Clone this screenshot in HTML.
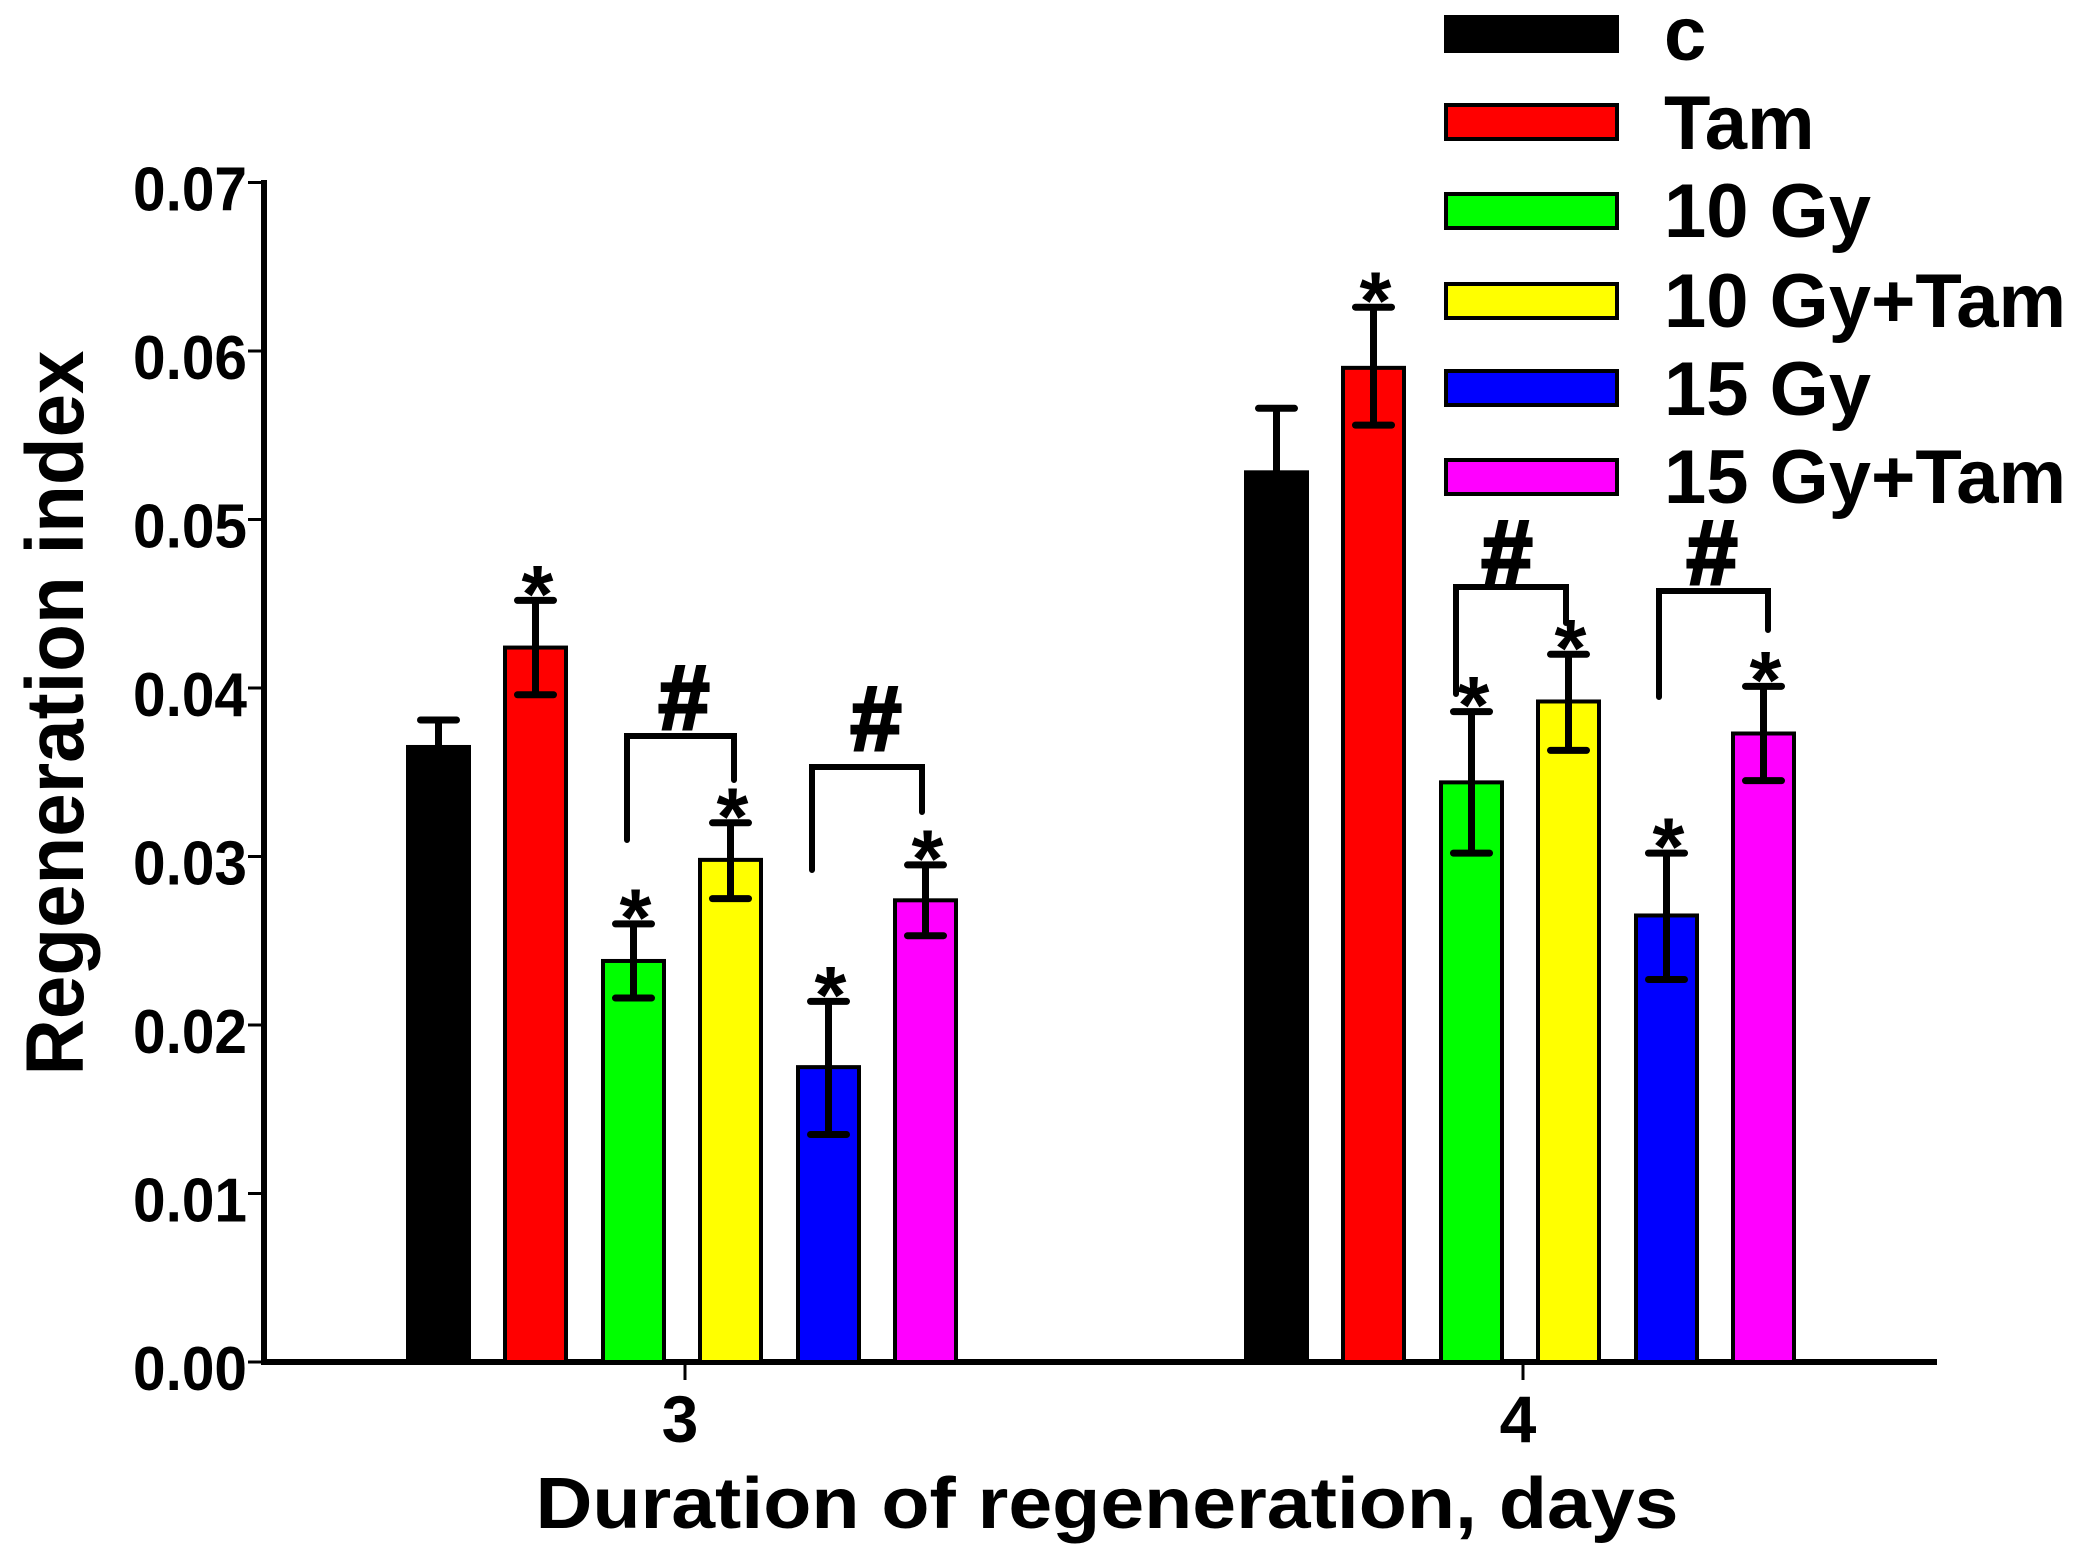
<!DOCTYPE html>
<html><head><meta charset="utf-8"><style>html,body{margin:0;padding:0;background:#fff}svg{display:block}</style></head>
<body>
<svg id="s" xmlns="http://www.w3.org/2000/svg" width="2090" height="1567" viewBox="0 0 2090 1567" font-family="Liberation Sans, Arial, sans-serif" font-weight="bold">
<rect width="2090" height="1567" fill="#fff"/>
<g id="g"></g>
</svg>
<script>
var g=document.getElementById('g'),h='';
function Y(v){return 1362-v*16850;}
h+='<line x1="264" y1="180" x2="264" y2="1365" stroke="#000" stroke-width="6"/>';
h+='<line x1="261" y1="1362" x2="1937" y2="1362" stroke="#000" stroke-width="6"/>';
for(var i=0;i<=7;i++){var y=Y(i*0.01);
 h+='<line x1="248" y1="'+y+'" x2="264" y2="'+y+'" stroke="#000" stroke-width="3"/>';
 h+='<text x="247" y="'+(y+28)+'" font-size="62" text-anchor="end" textLength="114" lengthAdjust="spacingAndGlyphs">'+(i/100).toFixed(2)+'</text>';}
[[685,'3'],[1523,'4']].forEach(function(t){
 h+='<line x1="'+t[0]+'" y1="1362" x2="'+t[0]+'" y2="1380" stroke="#000" stroke-width="3"/>';
 h+='<text x="'+(t[0]-5)+'" y="1442" font-size="66" text-anchor="middle">'+t[1]+'</text>';});
h+='<text x="1107" y="1528" font-size="72" text-anchor="middle" textLength="1143" lengthAdjust="spacingAndGlyphs">Duration of regeneration, days</text>';
h+='<text transform="translate(83,713) rotate(-90)" font-size="82" text-anchor="middle" textLength="725" lengthAdjust="spacingAndGlyphs">Regeneration index</text>';
var cols=['#000','#ff0000','#00ff00','#ffff00','#0000ff','#ff00ff'];
var data=[
 [[.0365,null,.0381,0],[.0424,.0396,.0452,1],[.0238,.0216,.026,1],[.0298,.0275,.032,1],[.0175,.0135,.0214,1],[.0274,.0253,.0295,1]],
 [[.0528,null,.0566,0],[.059,.0556,.0626,1],[.0344,.0302,.0386,1],[.0392,.0363,.042,1],[.0265,.0227,.0302,1],[.0373,.0345,.0401,1]]];
var lefts=[408,505,603,700,798,895],W=61;
data.forEach(function(gr,gi){gr.forEach(function(d,j){
 var x=lefts[j]+gi*838,cx=x+W/2,yt=Y(d[0]);
 h+='<rect x="'+x+'" y="'+yt+'" width="'+W+'" height="'+(1362-yt)+'" fill="'+cols[j]+'" stroke="#000" stroke-width="4"/>';
 var lo=d[1]===null?yt:Y(d[1]),hi=Y(d[2]);
 h+='<line x1="'+cx+'" y1="'+lo+'" x2="'+cx+'" y2="'+hi+'" stroke="#000" stroke-width="7"/>';
 h+='<line x1="'+(cx-18)+'" y1="'+hi+'" x2="'+(cx+18)+'" y2="'+hi+'" stroke="#000" stroke-width="7" stroke-linecap="round"/>';
 if(d[1]!==null)h+='<line x1="'+(cx-18)+'" y1="'+lo+'" x2="'+(cx+18)+'" y2="'+lo+'" stroke="#000" stroke-width="7" stroke-linecap="round"/>';
 if(d[3])h+='<text x="'+(cx+2)+'" y="'+(hi+22)+'" font-size="82" text-anchor="middle">*</text>';
});});
[[627,840,736,734,780,684,729],[812,870,767,922,812,876,750],[1456,694,587,1566,623,1507,584],[1659,697,591,1768,630,1712,584]].forEach(function(b){
 h+='<polyline points="'+b[0]+','+b[1]+' '+b[0]+','+b[2]+' '+b[3]+','+b[2]+' '+b[3]+','+b[4]+'" fill="none" stroke="#000" stroke-width="6" stroke-linecap="round" stroke-linejoin="miter"/>';
 h+='<text x="'+b[5]+'" y="'+b[6]+'" font-size="92" text-anchor="middle" stroke="#000" stroke-width="3">#</text>';});
var labs=['c','Tam','10 Gy','10 Gy+Tam','15 Gy','15 Gy+Tam'],ry=[15,103,192,282,369,458],by=[60,149,237,327,415,503];
labs.forEach(function(l,i){
 h+='<rect x="1446" y="'+(ry[i]+2)+'" width="171" height="34" fill="'+cols[i]+'" stroke="#000" stroke-width="4"/>';
 h+='<text x="1664" y="'+by[i]+'" font-size="76">'+l+'</text>';});
g.innerHTML=h;
</script>
</body></html>
